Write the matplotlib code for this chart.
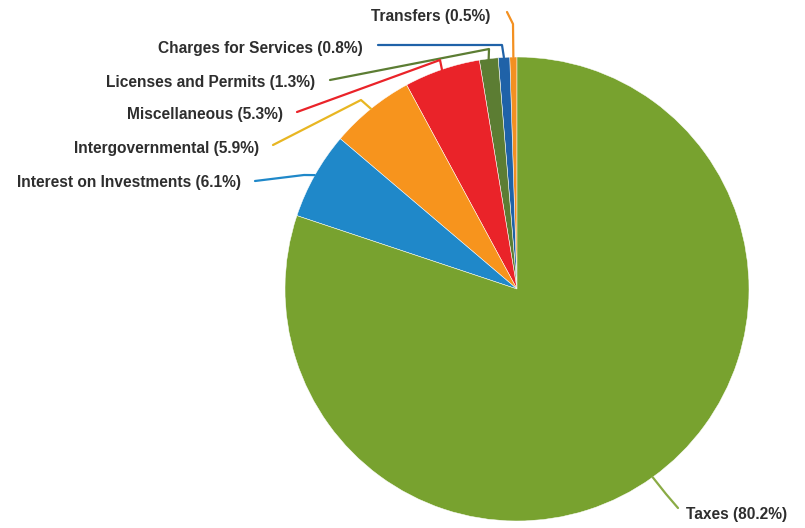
import matplotlib
matplotlib.use("Agg")
import matplotlib.pyplot as plt
import numpy as np

categories = ["Transfers", "Charges for Services", "Licenses and Permits",
              "Miscellaneous", "Intergovernmental", "Interest on Investments", "Taxes"]
values = [0.5, 0.8, 1.3, 5.3, 5.9, 6.1, 80.2]
colors = ["#f39021", "#1f62a8", "#5c7d33", "#ea2329", "#f7941d", "#1f88c9", "#78a22f"]
line_colors = ["#f39021", "#1f62a8", "#5c7d33", "#ea2329", "#e8b622", "#1f88c9", "#8aab45"]

W, H = 805, 528
fig = plt.figure(figsize=(W / 100, H / 100), dpi=100)
ax = fig.add_axes([0, 0, 1, 1])

cx, cy, R = 517, H - 289, 232
wedges, _ = ax.pie(values, startangle=90, counterclock=True, colors=colors,
                   center=(cx, cy), radius=R, frame=True,
                   wedgeprops=dict(edgecolor="white", linewidth=0.35))
ax.set_xlim(0, W)
ax.set_ylim(0, H)
ax.set_aspect("equal")
ax.axis("off")

# label layout (pixel coords, y from top): text anchor, ha, line start, elbow
layout = [
    ((490, 17), "right", (507, 12), (513, 24)),
    ((363, 49), "right", (378, 45), (502, 45)),
    ((315, 83), "right", (330, 80), (489, 49)),
    ((283, 115), "right", (297, 112), (440, 60)),
    ((259, 149), "right", (273, 145), (361, 100)),
    ((241, 182), "right", (255, 181), (304, 175)),
    ((686, 515), "left", (678, 508), (666, 494)),
]

for w, cat, val, lc, (tpos, ha, p0, p1) in zip(wedges, categories, values, line_colors, layout):
    mid = np.deg2rad((w.theta1 + w.theta2) / 2)
    ex, ey = cx + R * np.cos(mid), cy + R * np.sin(mid)
    xs = [p0[0], p1[0], ex]
    ys = [H - p0[1], H - p1[1], ey]
    ax.plot(xs, ys, color=lc, lw=1.6, solid_capstyle="round", solid_joinstyle="round")
    ax.text(tpos[0], H - tpos[1], f"{cat} ({val}%)", ha=ha, va="center",
            fontsize=11.2, fontweight="bold", color="#2e2e2e",
            family=["Liberation Sans", "DejaVu Sans"])

fig.savefig("out.png", dpi=100, facecolor="white")
